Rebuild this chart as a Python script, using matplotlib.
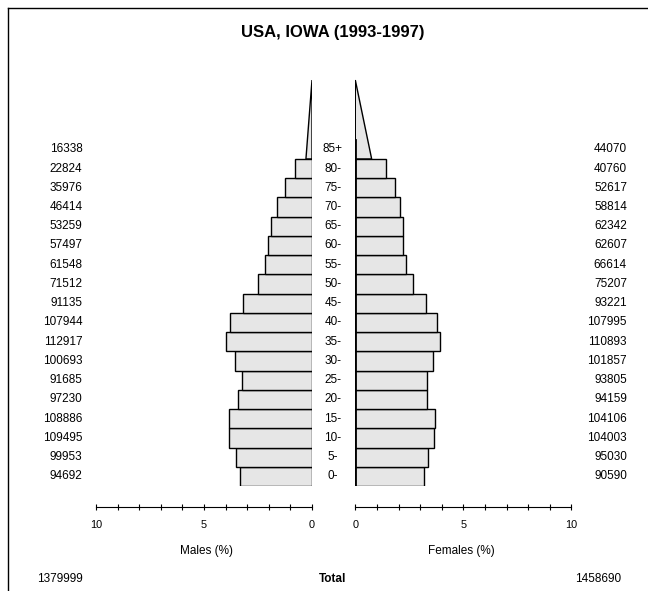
import matplotlib
matplotlib.use("Agg")
import matplotlib.pyplot as plt
from matplotlib.lines import Line2D
from matplotlib.patches import Polygon

plt.rcParams['font.family'] = ['Liberation Sans', 'DejaVu Sans']

# data, from age 0- up to 85+
ages = ['0-', '5-', '10-', '15-', '20-', '25-', '30-', '35-', '40-', '45-',
        '50-', '55-', '60-', '65-', '70-', '75-', '80-', '85+']
males = [94692, 99953, 109495, 108886, 97230, 91685, 100693, 112917, 107944,
         91135, 71512, 61548, 57497, 53259, 46414, 35976, 22824, 16338]
females = [90590, 95030, 104003, 104106, 94159, 93805, 101857, 110893, 107995,
           93221, 75207, 66614, 62607, 62342, 58814, 52617, 40760, 44070]
male_total = '1379999'
female_total = '1458690'
title = 'USA, IOWA (1993-1997)'

W, H = 648, 591
fig = plt.figure(figsize=(W / 100, H / 100), dpi=100)

total = sum(males) + sum(females)
pm = [100 * v / total for v in males]
pf = [100 * v / total for v in females]

row_px = 19.24
y0_px = 486
ymax = 22.5
apex = 21.1

def fx(px):
    return px / W

def fy(px):
    return (H - px) / H

ax_h = ymax * row_px / H
axL = fig.add_axes([fx(96), fy(y0_px), 216 / W, ax_h])
axR = fig.add_axes([fx(355.3), fy(y0_px), 216 / W, ax_h])

face = '#e6e6e6'
n = len(ages)
for ax, vals in ((axL, pm), (axR, pf)):
    ax.set_xlim(0, 10)
    ax.set_ylim(0, ymax)
    ax.axis('off')
    ax.barh(range(n - 1), vals[:-1], height=1, align='edge',
            color=face, edgecolor='black', linewidth=1)
    # open-ended top group drawn as a triangle of the same area
    last = vals[-1]
    base = 2 * last / (apex - (n - 1))
    tri = Polygon([(0, n - 1), (base, n - 1), (0, apex)], closed=True,
                  facecolor=face, edgecolor='black', linewidth=1)
    ax.add_patch(tri)
axL.invert_xaxis()
axR.plot([0, 0], [0, n], color='black', linewidth=2)

fs = 8.5

# tick axes
for left_px, inv, lab, cx in ((96, True, 'Males (%)', 207), (355.3, False, 'Females (%)', 461)):
    tax = fig.add_axes([fx(left_px), fy(506.7), 216 / W, 0.001])
    tax.set_xlim(0, 10)
    if inv:
        tax.invert_xaxis()
    for s in ('left', 'right', 'top'):
        tax.spines[s].set_visible(False)
    tax.spines['bottom'].set_linewidth(0.8)
    tax.set_yticks([])
    tax.set_xticks(range(11))
    tax.set_xticklabels([str(i) if i % 5 == 0 else '' for i in range(11)])
    tax.tick_params(axis='x', direction='inout', length=5, width=0.8,
                    labelsize=7.8, pad=7)
    fig.text(fx(cx), fy(551), lab, ha='center', va='center', fontsize=fs)

# age labels and counts
for i, a in enumerate(ages):
    ypx = y0_px - (i + 0.5) * row_px
    fig.text(fx(333), fy(ypx), a, ha='center', va='center', fontsize=fs)
    fig.text(fx(82.5), fy(ypx), str(males[i]), ha='right', va='center', fontsize=fs)
    fig.text(fx(627), fy(ypx), str(females[i]), ha='right', va='center', fontsize=fs)

fig.text(fx(60), fy(579), male_total, ha='center', va='center', fontsize=fs)
fig.text(fx(598), fy(579), female_total, ha='center', va='center', fontsize=fs)
fig.text(fx(333), fy(579), 'Total', ha='center', va='center', fontsize=fs,
         fontweight='bold')
fig.text(fx(333), fy(33), title, ha='center', va='center', fontsize=12,
         fontweight='bold')

# frame lines at top and left
fig.add_artist(Line2D([fx(8), fx(8)], [0, fy(8)], color='black', linewidth=1))
fig.add_artist(Line2D([fx(8), 1], [fy(8), fy(8)], color='black', linewidth=1))

fig.savefig('out.png', dpi=100)
